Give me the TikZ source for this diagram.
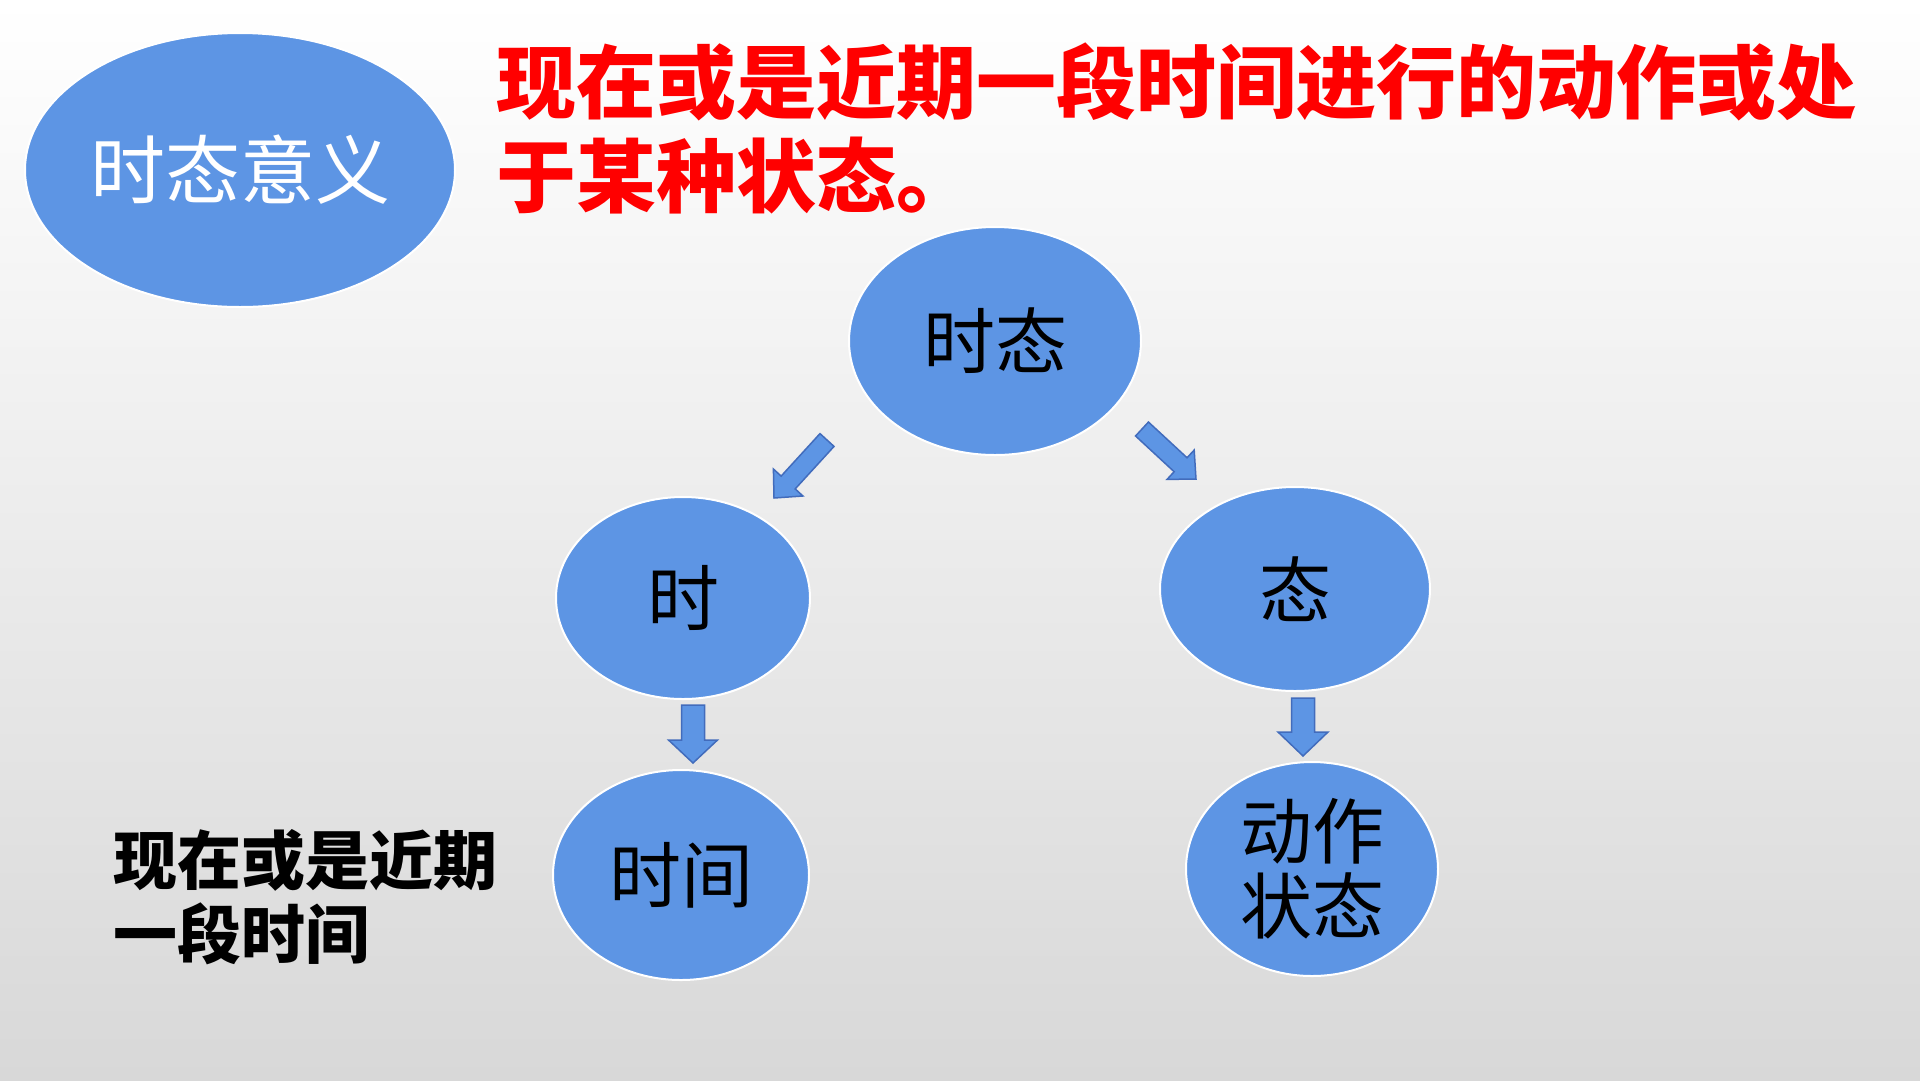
\documentclass[tikz,border=0pt]{standalone}
\usepackage{fontspec}
\setmainfont{Noto Sans CJK SC}
\usetikzlibrary{shapes.geometric,calc}
\definecolor{ellblue}{RGB}{93,149,228}
\definecolor{arrline}{RGB}{66,108,188}
\definecolor{titlered}{RGB}{255,0,0}
\newcommand{\blockarrow}[5]{%
  \coordinate (#1-n) at ($(#2)!#5!(#1)$);
  \draw[blockarr] ($(#1)!#3!90:(#2)$) -- ($(#1-n)!#3!90:(#2)$) -- ($(#1-n)!#4!90:(#2)$) -- (#2)
    -- ($(#1-n)!#4!-90:(#2)$) -- ($(#1-n)!#3!-90:(#2)$) -- ($(#1)!#3!-90:(#2)$) -- cycle;}
\begin{document}
\begin{tikzpicture}[x=1pt,y=-1pt,
  bubble/.style={ellipse, fill=ellblue, draw=white, line width=2pt, inner sep=0pt,
    font=\fontsize{72}{75}\selectfont, align=center},
  blockarr/.style={fill=ellblue, draw=arrline, line width=1.5pt, line join=miter}]
\shade[top color=white, bottom color={rgb,255:red,216;green,216;blue,216}] (0,0) rectangle (1920,1080);
\useasboundingbox (0,0) rectangle (1920,1080);

% ellipses
\node[bubble, minimum width=430pt, minimum height=274pt, text=white,
  font=\fontsize{75}{80}\selectfont] (meaning) at (240,170) {时态意义};
\node[bubble, minimum width=292pt, minimum height=228pt] (shitai) at (995,341) {时态};
\node[bubble, minimum width=254pt, minimum height=202pt] (shi) at (683,598) {时};
\node[bubble, minimum width=270pt, minimum height=204pt] (tai) at (1295,589) {态};
\node[bubble, minimum width=256pt, minimum height=210pt] (shijian) at (681,875) {时间};
\node[bubble, minimum width=252pt, minimum height=214pt] (dongzuo) at (1312,869) {动作\\状态};

% texts
\node[anchor=west, inner sep=0pt, text=titlered, align=left,
  font=\bfseries\fontsize{80}{94}\selectfont] (title) at (496,128)
  {现在或是近期一段时间进行的动作或处\\于某种状态。};
\node[anchor=west, inner sep=0pt, align=left,
  font=\bfseries\fontsize{64}{74}\selectfont] (note) at (113,897)
  {现在或是近期\\一段时间};

% block arrows
\coordinate (a1s) at (827,440);  \coordinate (a1e) at (774,498);
\coordinate (a2s) at (1142,429); \coordinate (a2e) at (1196,479);
\coordinate (a3s) at (693,705);  \coordinate (a3e) at (693,763);
\coordinate (a4s) at (1303,698); \coordinate (a4e) at (1303,756);
\blockarrow{a1s}{a1e}{9.5pt}{20pt}{21pt}
\blockarrow{a2s}{a2e}{9.5pt}{20pt}{21pt}
\blockarrow{a3s}{a3e}{11.5pt}{24.5pt}{23pt}
\blockarrow{a4s}{a4e}{11.5pt}{25pt}{24pt}
\end{tikzpicture}
\end{document}
